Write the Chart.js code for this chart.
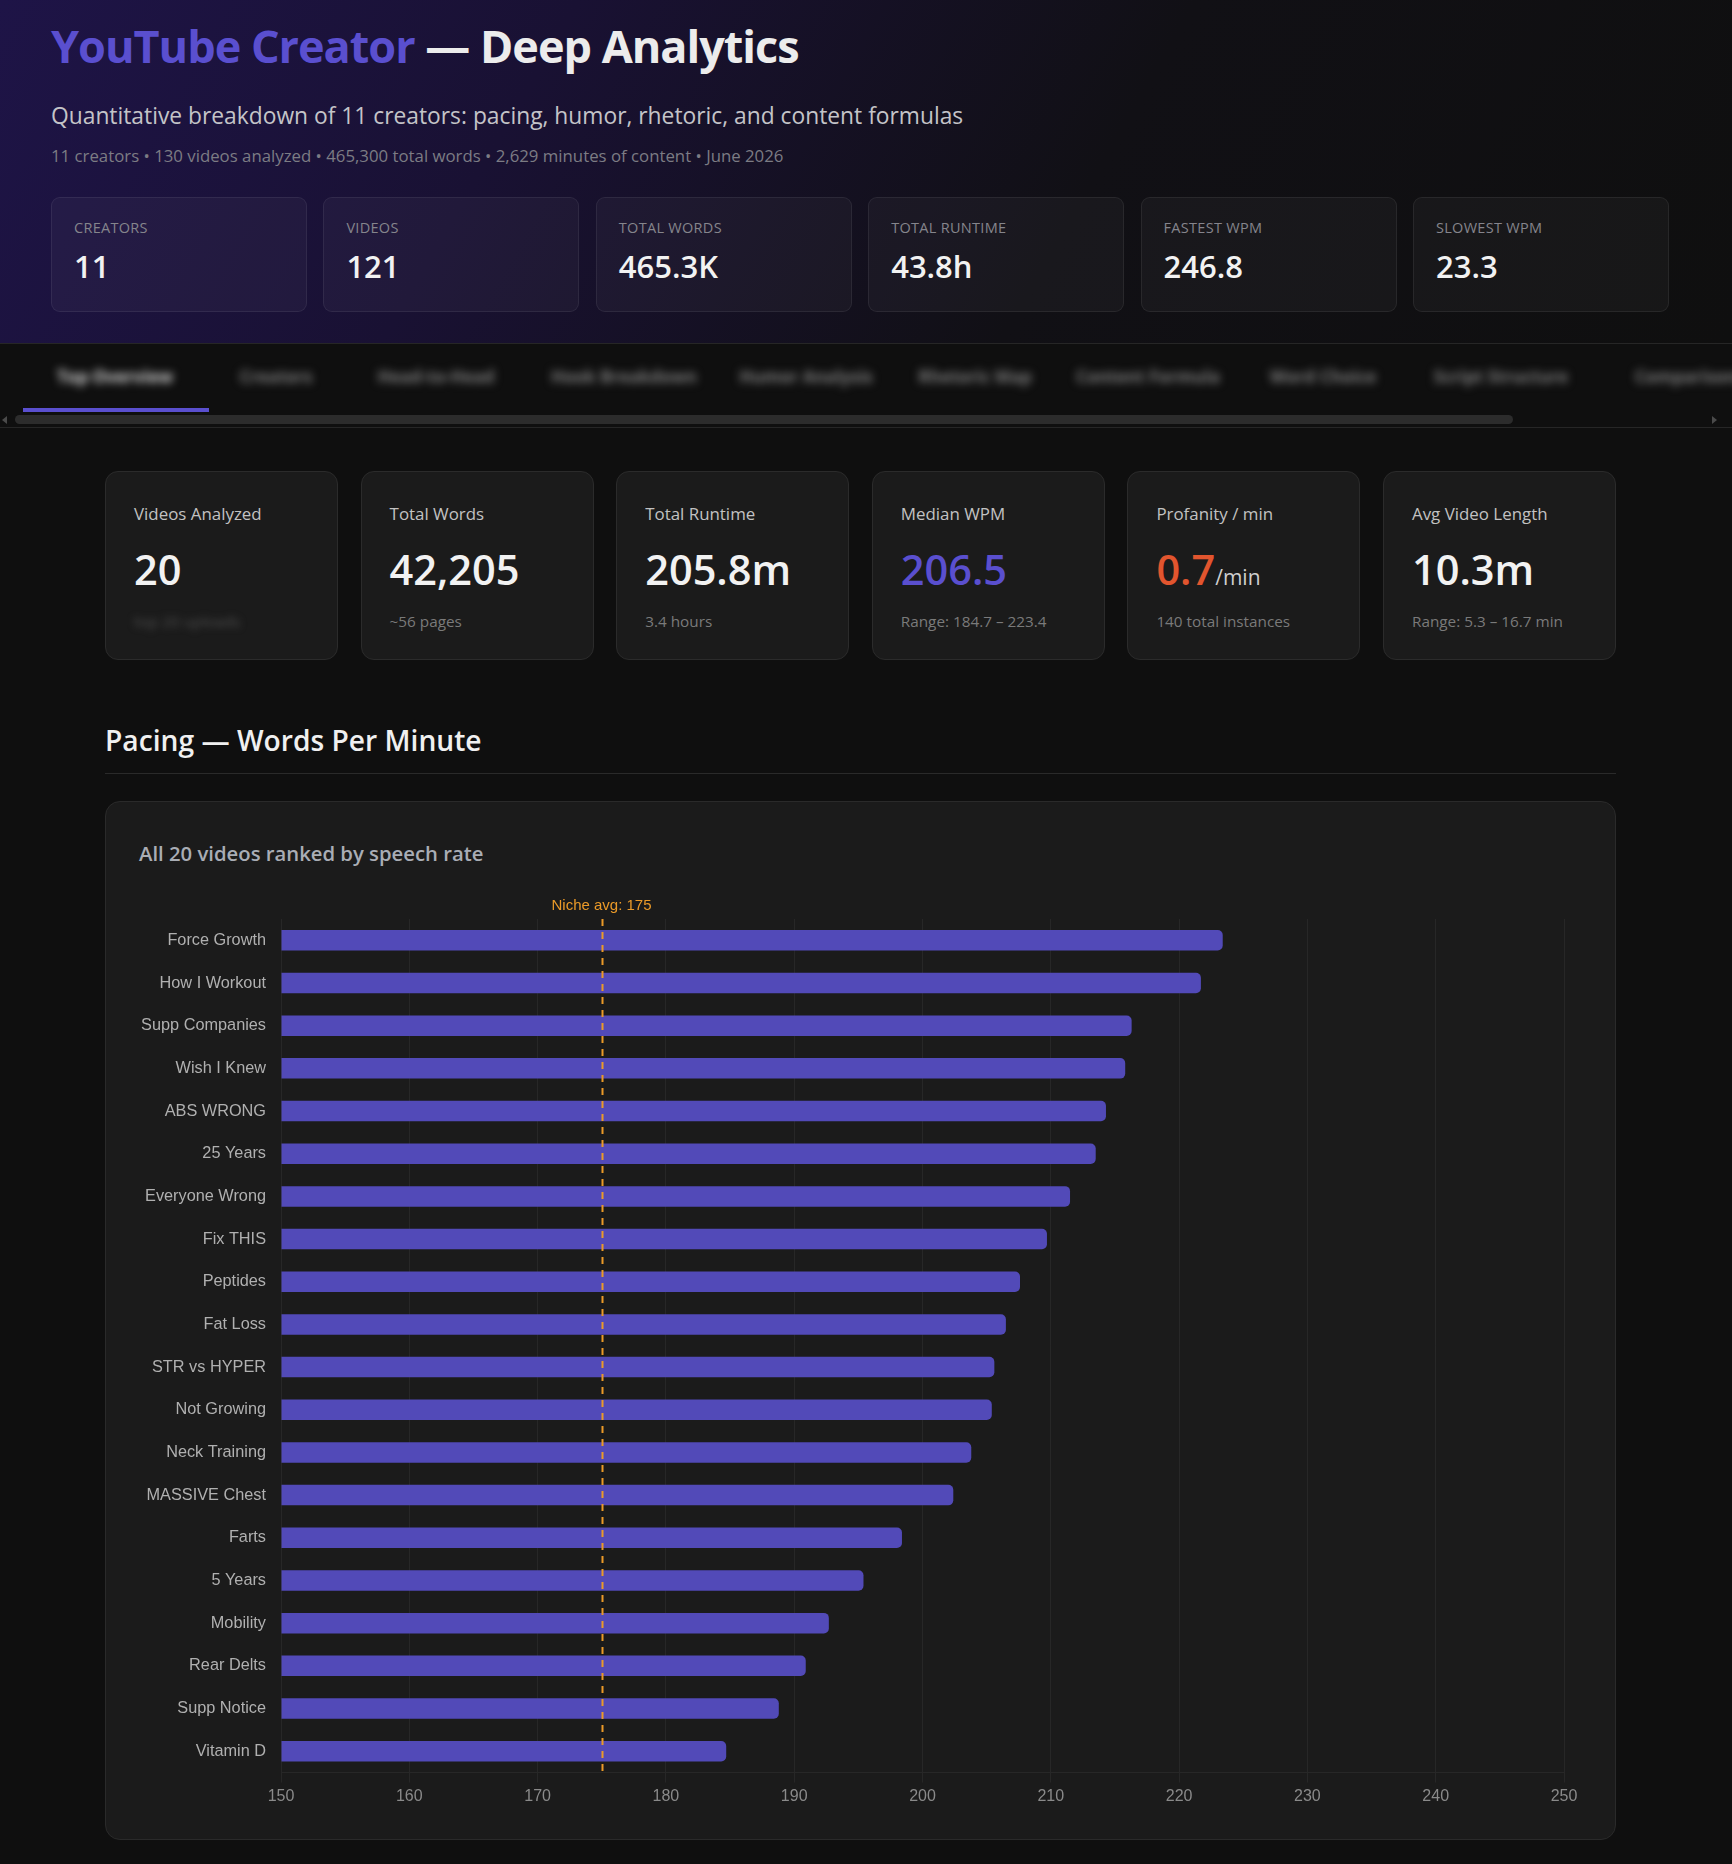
<!DOCTYPE html>
<html>
<head>
<meta charset="utf-8">
<title>YouTube Creator — Deep Analytics</title>
<script src="https://cdn.jsdelivr.net/npm/chart.js@4.4.1/dist/chart.umd.min.js"></script>
<style>
  * { box-sizing: border-box; }
  html, body { margin: 0; padding: 0; }
  body {
    width: 1732px; height: 1864px; overflow: hidden;
    background: #0f0f0f; color: #eee;
    font-family: 'Open Sans', 'Noto Sans', sans-serif;
  }
  .page { position: relative; width: 1732px; height: 1864px; }

  .header {
    position: absolute; left: 0; top: 0; width: 1732px; height: 344px;
    background: linear-gradient(120deg, #1e1447 0%, #191133 30%, #111015 62%, #0f0f0f 100%);
    border-bottom: 1px solid #262626;
  }
  .header h1 {
    position: absolute; left: 51px; top: 23px; margin: 0;
    font-size: 45px; line-height: 1; font-weight: 700; letter-spacing: -1px;
    color: #ececec; white-space: nowrap;
  }
  .header h1 .accent { color: #5a4fcf; }
  .header .sub {
    position: absolute; left: 51px; top: 105px;
    font-size: 22.8px; line-height: 1; color: #c4c4c8; white-space: nowrap;
  }
  .header .meta {
    position: absolute; left: 51px; top: 148px;
    font-size: 16.8px; line-height: 1; color: #7c7c84; white-space: nowrap;
  }
  .top-stats { position: absolute; left: 51px; top: 197px; display: flex; gap: 16.4px; }
  .top-stat {
    position: relative; width: 256px; height: 115px; border-radius: 9px;
    background: rgba(255,255,255,0.035); border: 1px solid rgba(255,255,255,0.07);
  }
  .top-stat .lbl {
    position: absolute; left: 22px; top: 23px; font-size: 14.5px; line-height: 1;
    text-transform: uppercase; letter-spacing: 0.3px; color: #85858c;
  }
  .top-stat .val {
    position: absolute; left: 22px; top: 53px; font-size: 31px; line-height: 1;
    font-weight: 600; color: #f2f2f2;
  }

  .tabs { position: absolute; left: 0; top: 344px; width: 1732px; height: 84px; border-bottom: 1px solid #262626; }
  .tab {
    position: absolute; top: 22px; transform: translateX(-50%);
    font-size: 17px; line-height: 22px; font-weight: 700; color: #7a7a7a;
    filter: blur(4.5px); white-space: nowrap;
  }
  .tab.active { color: #d4d4d4; }
  .tab-underline { position: absolute; left: 23px; top: 64px; width: 186px; height: 4px; background: #5a4fcf; }
  .scroll-thumb { position: absolute; left: 15px; top: 71px; width: 1498px; height: 9px; border-radius: 5px; background: #2c2c2c; }
  .scroll-arrow-l { position: absolute; left: 2px; top: 72px; border: 4px solid transparent; border-right: 5px solid #4a4a4a; border-left: 0; }
  .scroll-arrow-r { position: absolute; left: 1712px; top: 72px; border: 4px solid transparent; border-left: 5px solid #4a4a4a; border-right: 0; }

  .stats { position: absolute; left: 105px; top: 471px; display: flex; gap: 22.6px; }
  .stat {
    position: relative; width: 233px; height: 189px; border-radius: 13px;
    background: #1b1b1b; border: 1px solid #2b2b2b;
  }
  .stat .lbl { position: absolute; left: 28px; top: 34px; font-size: 16.9px; line-height: 1; color: #c2c2c2; }
  .stat .val { position: absolute; left: 28px; top: 77px; font-size: 41.5px; line-height: 1; font-weight: 600; color: #f2f2f2; white-space: nowrap; }
  .stat .val .unit { font-size: 21px; font-weight: 400; color: #cfcfcf; }
  .stat .note { position: absolute; left: 28px; top: 142px; font-size: 15.3px; line-height: 1; color: #7a7a7a; white-space: nowrap; }
  .stat .note.hidden { filter: blur(3.5px); color: #4e4e4e; }
  .purple { color: #5a4fcf !important; }
  .orange { color: #e2552e !important; }

  .section-title {
    position: absolute; left: 105px; top: 726px; font-size: 28.2px; line-height: 1;
    font-weight: 600; color: #f0f0f0; white-space: nowrap;
  }
  .section-rule { position: absolute; left: 105px; top: 773px; width: 1511px; height: 1px; background: #2a2a2a; }

  .chart-card {
    position: absolute; left: 105px; top: 801px; width: 1511px; height: 1039px;
    background: #1b1b1b; border: 1px solid #2a2a2a; border-radius: 15px;
  }
  .chart-card h3 {
    position: absolute; left: 33px; top: 41px; margin: 0;
    font-size: 20.3px; line-height: 1; font-weight: 600; color: #a9adb5; white-space: nowrap;
  }
  .chart-wrap { position: absolute; left: 15px; top: 85px; width: 1480px; height: 940px; }
</style>
</head>
<body>
<div class="page">
  <div class="header">
    <h1><span class="accent">YouTube Creator</span> — Deep Analytics</h1>
    <div class="sub">Quantitative breakdown of 11 creators: pacing, humor, rhetoric, and content formulas</div>
    <div class="meta">11 creators • 130 videos analyzed • 465,300 total words • 2,629 minutes of content • June 2026</div>
    <div class="top-stats">
      <div class="top-stat"><div class="lbl">Creators</div><div class="val">11</div></div>
      <div class="top-stat"><div class="lbl">Videos</div><div class="val">121</div></div>
      <div class="top-stat"><div class="lbl">Total Words</div><div class="val">465.3K</div></div>
      <div class="top-stat"><div class="lbl">Total Runtime</div><div class="val">43.8h</div></div>
      <div class="top-stat"><div class="lbl">Fastest WPM</div><div class="val">246.8</div></div>
      <div class="top-stat"><div class="lbl">Slowest WPM</div><div class="val">23.3</div></div>
    </div>
  </div>

  <div class="tabs">
    <div class="tab active" style="left:115px">Top Overview</div>
    <div class="tab" style="left:276px">Creators</div>
    <div class="tab" style="left:436px">Head-to-Head</div>
    <div class="tab" style="left:624px">Hook Breakdown</div>
    <div class="tab" style="left:806px">Humor Analysis</div>
    <div class="tab" style="left:975px">Rhetoric Map</div>
    <div class="tab" style="left:1148px">Content Formula</div>
    <div class="tab" style="left:1323px">Word Choice</div>
    <div class="tab" style="left:1501px">Script Structure</div>
    <div class="tab" style="left:1690px">Comparisons</div>
    <div class="tab-underline"></div>
    <div class="scroll-arrow-l"></div>
    <div class="scroll-thumb"></div>
    <div class="scroll-arrow-r"></div>
  </div>

  <div class="stats">
    <div class="stat"><div class="lbl">Videos Analyzed</div><div class="val">20</div><div class="note hidden">top 20 uploads</div></div>
    <div class="stat"><div class="lbl">Total Words</div><div class="val">42,205</div><div class="note">~56 pages</div></div>
    <div class="stat"><div class="lbl">Total Runtime</div><div class="val">205.8m</div><div class="note">3.4 hours</div></div>
    <div class="stat"><div class="lbl">Median WPM</div><div class="val purple">206.5</div><div class="note">Range: 184.7 – 223.4</div></div>
    <div class="stat"><div class="lbl">Profanity / min</div><div class="val"><span class="orange">0.7</span><span class="unit">/min</span></div><div class="note">140 total instances</div></div>
    <div class="stat"><div class="lbl">Avg Video Length</div><div class="val">10.3m</div><div class="note">Range: 5.3 – 16.7 min</div></div>
  </div>

  <div class="section-title">Pacing — Words Per Minute</div>
  <div class="section-rule"></div>

  <div class="chart-card">
    <h3>All 20 videos ranked by speech rate</h3>
    <div class="chart-wrap"><canvas id="wpmChart"></canvas></div>
  </div>
</div>

<script>
const videoLabels = [
  'Force Growth', 'How I Workout', 'Supp Companies', 'Wish I Knew', 'ABS WRONG',
  '25 Years', 'Everyone Wrong', 'Fix THIS', 'Peptides', 'Fat Loss',
  'STR vs HYPER', 'Not Growing', 'Neck Training', 'MASSIVE Chest', 'Farts',
  '5 Years', 'Mobility', 'Rear Delts', 'Supp Notice', 'Vitamin D'
];
const wpmValues = [
  223.4, 221.7, 216.3, 215.8, 214.3,
  213.5, 211.5, 209.7, 207.6, 206.5,
  205.6, 205.4, 203.8, 202.4, 198.4,
  195.4, 192.7, 190.9, 188.8, 184.7
];
const WPM_MIN = 150;
const WPM_MAX = 250;
const WPM_STEP = 10;
const NICHE_AVG = 175;
const NICHE_LABEL = 'Niche avg: ' + NICHE_AVG;

const BAR_COLOR = '#524ab8';
const NICHE_COLOR = '#eb9a28';
const GRID_COLOR = 'rgba(255,255,255,0.055)';

// dashed reference line for the niche average + its label above the plot
const nicheLinePlugin = {
  id: 'nicheLine',
  afterDatasetsDraw(chart) {
    const { ctx, chartArea, scales } = chart;
    const x = Math.round(scales.x.getPixelForValue(NICHE_AVG)) + 0.5;
    ctx.save();
    ctx.strokeStyle = NICHE_COLOR;
    ctx.lineWidth = 2;
    ctx.setLineDash([7, 6]);
    ctx.beginPath();
    ctx.moveTo(x, chartArea.top);
    ctx.lineTo(x, chartArea.bottom);
    ctx.stroke();
    ctx.setLineDash([]);
    ctx.fillStyle = NICHE_COLOR;
    ctx.font = '15px "Liberation Sans", Arial, sans-serif';
    ctx.textAlign = 'center';
    ctx.textBaseline = 'alphabetic';
    ctx.fillText(NICHE_LABEL, x - 1, chartArea.top - 9);
    ctx.restore();
  }
};

function initWpmChart() {
  const ctx = document.getElementById('wpmChart').getContext('2d');
  return new Chart(ctx, {
    type: 'bar',
    data: {
      labels: videoLabels,
      datasets: [{
        label: 'WPM',
        data: wpmValues,
        base: WPM_MIN,
        backgroundColor: BAR_COLOR,
        borderWidth: 0,
        borderRadius: 5,
        borderSkipped: 'start',
        barPercentage: 0.6,
        categoryPercentage: 0.8
      }]
    },
    options: {
      indexAxis: 'y',
      responsive: true,
      maintainAspectRatio: false,
      animation: false,
      layout: { padding: { top: 32, right: 37, bottom: 0, left: 0 } },
      plugins: {
        legend: { display: false },
        tooltip: { enabled: false }
      },
      scales: {
        x: {
          min: WPM_MIN,
          max: WPM_MAX,
          ticks: { stepSize: WPM_STEP, color: '#8a8a8a', font: { size: 16 }, padding: 4 },
          grid: { color: GRID_COLOR, tickLength: 10 },
          border: { color: GRID_COLOR },
          afterFit: s => { s.height = 54.5; }
        },
        y: {
          ticks: { color: '#b0b0b0', font: { size: 16.3 }, padding: 15 },
          grid: { display: false, drawTicks: false },
          border: { display: false },
          afterFit: s => { s.width = 160; }
        }
      }
    },
    plugins: [nicheLinePlugin]
  });
}

document.addEventListener('DOMContentLoaded', () => {
  initWpmChart();
});
</script>
</body>
</html>
